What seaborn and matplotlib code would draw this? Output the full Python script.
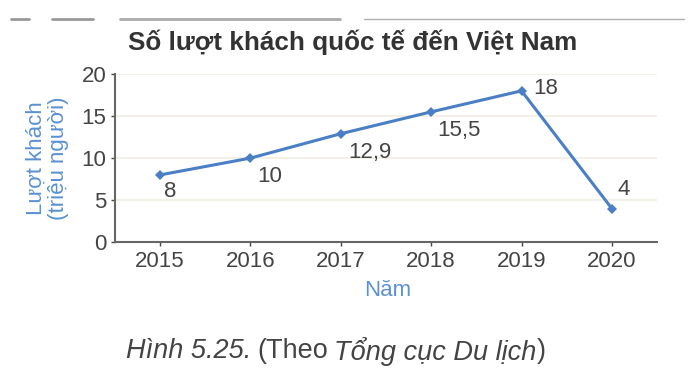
import pandas as pd
import seaborn as sns
import matplotlib.pyplot as plt
from matplotlib.lines import Line2D

# data
years = [2015, 2016, 2017, 2018, 2019, 2020]
visitors = [8, 10, 12.9, 15.5, 18, 4]
point_labels = ["8", "10", "12,9", "15,5", "18", "4"]

df = pd.DataFrame({"year": years, "visitors": visitors})

sns.set_style("white")
plt.rcParams['font.family'] = ['Liberation Sans', 'DejaVu Sans']

blue = '#4a7fc6'
grey = '#444444'
fs = 16

fig = plt.figure(figsize=(6.88, 3.72), dpi=100)
ax = fig.add_axes([0.167, 0.349, 0.788, 0.452])

sns.lineplot(data=df, x='year', y='visitors', color=blue, marker='D',
             markersize=5.5, linewidth=2.2, markeredgewidth=0, ax=ax)

# value labels next to each point (pixel offsets)
offsets = [(4, -6, 'top'), (7, -8, 'top'), (7, -8, 'top'), (6, -8, 'top'),
           (12, 2, 'center'), (6, 9, 'bottom')]
for x, y, lab, (dx, dy, va) in zip(years, visitors, point_labels, offsets):
    ax.annotate(lab, (x, y), xytext=(dx, dy), textcoords='offset pixels',
                fontsize=fs, color=grey, ha='left', va=va)

ax.set_xlim(2014.5, 2020.5)
ax.set_ylim(0, 20)
ax.set_xticks(years)
ax.set_yticks([0, 5, 10, 15, 20])
ax.yaxis.grid(True, color='#f0ede3', linewidth=1.2)
ax.set_axisbelow(True)
for s in ['top', 'right']:
    ax.spines[s].set_visible(False)
for s in ['left', 'bottom']:
    ax.spines[s].set_color('#666666')
    ax.spines[s].set_linewidth(1.5)
ax.tick_params(axis='both', labelsize=fs, colors=grey, length=3, width=1,
               direction='out', left=True, bottom=True, pad=3)
ax.set_xlabel('')
ax.set_ylabel('')

label_blue = '#5a91d3'
fig.text(388 / 688, 1 - 291 / 372, 'Năm', color=label_blue, fontsize=fs,
         ha='center', va='center')
fig.text(47 / 688, 1 - 158 / 372, 'Lượt khách\n(triệu người)', color=label_blue,
         fontsize=fs, rotation=90, ha='center', va='center',
         multialignment='center', linespacing=1.1)

fig.text(353 / 688, 1 - 42 / 372, 'Số lượt khách quốc tế đến Việt Nam',
         ha='center', va='center', fontsize=18.8, fontweight='bold',
         color='#333333')

# caption, pieces placed one after another
renderer = fig.canvas.get_renderer()
cap_parts = [('Hình 5.25.', 'italic'), ('(Theo', 'normal'),
             ('Tổng cục Du lịch', 'italic'), (')', 'normal')]
x_px = 126
for i, (txt, st) in enumerate(cap_parts):
    t = fig.text(x_px / 688, 1 - 351 / 372, txt, fontsize=19.5, style=st,
                 color='#444444', va='center', ha='left')
    bb = t.get_window_extent(renderer)
    gap = 0 if i == 2 else 6
    x_px = bb.x1 + gap

# faint rules at the top of the scan
for x0, x1, lw, c in [(0.016, 0.042, 2, '#999999'), (0.076, 0.135, 2, '#999999'),
                      (0.174, 0.494, 2, '#aaaaaa'), (0.529, 0.994, 1, '#b0b0b0')]:
    fig.add_artist(Line2D([x0, x1], [0.949, 0.949], color=c,
                          linewidth=lw, transform=fig.transFigure))

fig.savefig('out.png', dpi=100)
